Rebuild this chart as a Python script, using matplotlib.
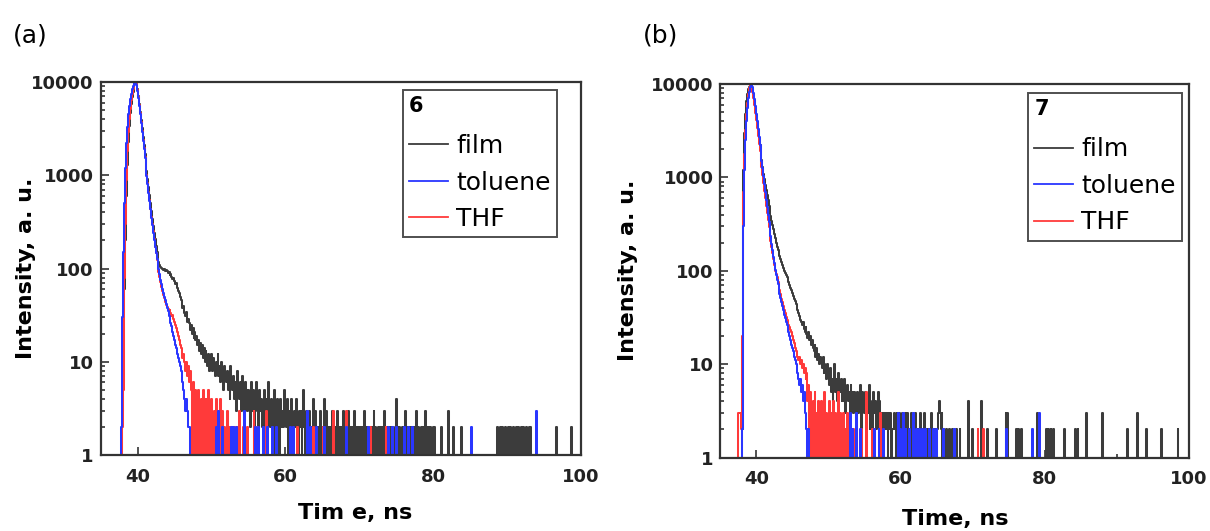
import numpy as np
import matplotlib
matplotlib.use('Agg')
import matplotlib.pyplot as plt

plt.rcParams['font.family'] = 'DejaVu Sans'

# TCSPC decay counts: dense part in 0.125 ns channels from 37 ns (one row = 1 ns),
# sparse single-channel counts later in the tail as (time ns, counts)
t_start = 37.0
bin_ns = 0.125
t_end = 101.0
series_names = ['film', 'toluene', 'THF']
series_colors = ['#3c3c3c', '#2a36ff', '#ff3a3a']

# ---- panel (a), compound 6 ----
film_6 = [
    0, 0, 0, 0, 0, 0, 0, 0,                                  # 37
    3, 6, 60, 200, 600, 1300, 2300, 3400,                    # 38
    4600, 5800, 6900, 7900, 8800, 9500, 10000, 9600,         # 39
    8400, 7000, 5800, 4800, 3900, 3200, 2600, 2100,          # 40
    1700, 1380, 1120, 910, 740, 610, 500, 410,               # 41
    340, 285, 240, 205, 175, 150, 130, 118,                  # 42
    110, 105, 102, 100, 97, 99, 95, 97,                      # 43
    93, 90, 92, 86, 88, 82, 78, 80,                          # 44
    74, 68, 70, 62, 58, 55, 50, 46,                          # 45
    44, 38, 40, 33, 31, 34, 27, 29,                          # 46
    26, 22, 25, 20, 23, 18, 21, 17,                          # 47
    19, 15, 17, 13, 16, 12, 15, 11,                          # 48
    14, 10, 13, 11, 9, 12, 8, 11,                            # 49
    12, 8, 11, 9, 7, 10, 8, 12,                              # 50
    7, 9, 6, 10, 8, 5, 9, 7,                                 # 51
    6, 8, 5, 7, 4, 9, 6, 5,                                  # 52
    7, 4, 6, 3, 8, 5, 4, 6,                                  # 53
    3, 5, 7, 4, 2, 6, 5, 3,                                  # 54
    5, 4, 2, 6, 3, 5, 4, 2,                                  # 55
    4, 6, 3, 2, 5, 3, 4, 2,                                  # 56
    3, 5, 2, 4, 3, 2, 6, 3,                                  # 57
    2, 4, 3, 1, 5, 2, 3, 4,                                  # 58
    2, 3, 1, 4, 2, 3, 2, 5,                                  # 59
    3, 2, 4, 1, 2, 3, 2, 4,                                  # 60
    2, 1, 3, 2, 4, 2, 1, 3,                                  # 61
    2, 3, 1, 2, 5, 2, 1, 3,                                  # 62
    2, 1, 3, 2, 1, 2, 4, 1,                                  # 63
    2, 3, 1, 2, 2, 1, 3, 2,                                  # 64
    1, 2, 4, 1, 2, 3, 1, 2,                                  # 65
    2, 1, 2, 3, 1, 2, 1, 2,                                  # 66
    3, 1, 2, 1, 2, 2, 1, 3,                                  # 67
    1, 2, 2, 1, 3, 1, 2, 1,                                  # 68
    2, 1, 2, 3, 1, 2, 1, 2,                                  # 69
    1, 2, 1, 2, 2, 1, 3, 1,                                  # 70
    2, 1, 2, 0, 2, 1, 2, 1,                                  # 71
    3, 1, 2, 1, 0, 2, 1, 2,                                  # 72
    1, 2, 0, 3, 1, 2, 1, 2,                                  # 73
    2, 1, 2, 1, 2, 0, 1, 2,                                  # 74
    4, 1, 2, 1, 2, 1, 0, 2,                                  # 75
    1, 2, 3, 1, 2, 0, 2, 1,                                  # 76
    2, 1, 2, 0, 2, 1, 3, 1,                                  # 77
    2, 0, 1, 2, 1, 2, 1, 2,                                  # 78
    3, 1, 2, 1, 2, 2, 0, 1,                                  # 79
    2, 1, 2, 0, 1, 0, 1, 0,                                  # 80
    0, 2, 0, 1, 0, 0, 0, 0,                                  # 81
]
film_6_spikes = [(82.1, 3), (82.8, 2), (83.9, 2), (88.8, 2), (89.1, 2), (89.4, 2), (89.8, 2),
                 (90.2, 2), (90.5, 2), (90.9, 2), (91.2, 2), (91.6, 2), (92.0, 2), (92.3, 2),
                 (92.6, 2), (93.0, 2), (93.3, 2), (96.7, 2), (98.8, 2)]
toluene_6 = [
    0, 0, 0, 0, 0, 0, 2, 2,                                  # 37
    30, 150, 500, 1200, 2200, 3300, 4500, 5600,              # 38
    6600, 7500, 8400, 9100, 9600, 9900, 9800, 9200,          # 39
    8000, 6700, 5500, 4500, 3600, 2900, 2350, 1900,          # 40
    1530, 1230, 990, 800, 650, 530, 430, 350,                # 41
    290, 240, 200, 170, 145, 125, 110, 100,                  # 42
    88, 75, 68, 60, 55, 50, 46, 42,                          # 43
    38, 35, 31, 28, 26, 24, 21, 19,                          # 44
    17, 15, 14, 12, 11, 10, 9, 8,                            # 45
    7, 6, 5, 4, 3, 4, 3, 2,                                  # 46
    2, 1, 0, 0, 0, 0, 0, 0,                                  # 47
]
toluene_6_spikes = [(50.6, 2), (51.0, 3), (51.5, 2), (52.7, 2), (53.0, 2), (53.4, 2), (54.5, 3),
                    (56.0, 2), (56.4, 2), (57.0, 2), (57.6, 2), (58.2, 2), (58.7, 2), (60.7, 2),
                    (61.1, 2), (63.0, 3), (63.4, 2), (64.2, 2), (65.3, 2), (68.3, 2), (71.3, 2),
                    (74.0, 2), (74.5, 2), (75.0, 2), (76.1, 2), (76.6, 2), (77.2, 2), (85.2, 2),
                    (94.0, 3)]
thf_6 = [
    0, 0, 0, 0, 0, 0, 0, 0,                                  # 37
    2, 5, 80, 300, 900, 1800, 2900, 4000,                    # 38
    5200, 6400, 7500, 8500, 9300, 9800, 10000, 9500,         # 39
    8300, 6900, 5700, 4600, 3700, 3000, 2400, 1950,          # 40
    1570, 1260, 1010, 820, 660, 540, 440, 360,               # 41
    300, 250, 205, 170, 145, 122, 105, 92,                   # 42
    82, 72, 64, 58, 52, 48, 44, 41,                          # 43
    39, 37, 35, 36, 33, 31, 32, 29,                          # 44
    27, 25, 23, 21, 19, 17, 15, 14,                          # 45
    13, 11, 12, 10, 8, 10, 7, 9,                             # 46
    6, 8, 5, 1, 6, 4, 1, 5,                                  # 47
    4, 1, 5, 3, 0, 4, 1, 5,                                  # 48
    3, 1, 4, 1, 0, 5, 3, 1,                                  # 49
    4, 1, 0, 3, 1, 4, 0, 3,                                  # 50
    1, 0, 4, 1, 3, 0, 2, 1,                                  # 51
    1, 3, 0, 2, 1, 0, 2, 1,                                  # 52
    0, 2, 0, 0, 2, 0, 3, 0,                                  # 53
]
thf_6_spikes = [(54.4, 2), (54.9, 2), (55.7, 3), (56.2, 2), (57.5, 3), (61.6, 2), (63.7, 2),
                (65.1, 2), (66.5, 3), (68.3, 3), (71.5, 2), (73.6, 2)]

# ---- panel (b), compound 7 ----
film_7 = [
    0, 0, 0, 0, 0, 0, 0, 0,                                  # 37
    2, 8, 1200, 3000, 4800, 6500, 7800, 8800,                # 38
    9400, 9800, 10000, 9900, 9000, 7800, 6600, 5500,         # 39
    4600, 3800, 3200, 2650, 2200, 1850, 1550, 1300,          # 40
    1100, 950, 830, 730, 650, 570, 500, 440,                 # 41
    390, 345, 310, 280, 250, 225, 200, 180,                  # 42
    165, 155, 145, 135, 125, 115, 108, 100,                  # 43
    95, 90, 85, 80, 75, 70, 66, 62,                          # 44
    58, 54, 50, 47, 44, 41, 38, 35,                          # 45
    33, 30, 28, 26, 28, 24, 22, 25,                          # 46
    21, 19, 22, 18, 20, 16, 18, 15,                          # 47
    14, 16, 12, 15, 11, 13, 10, 12,                          # 48
    11, 9, 12, 8, 10, 9, 7, 10,                              # 49
    8, 6, 9, 5, 7, 4, 6, 10,                                 # 50
    5, 7, 4, 8, 6, 5, 7, 4,                                  # 51
    6, 4, 7, 3, 5, 6, 4, 5,                                  # 52
    3, 6, 4, 5, 3, 5, 4, 2,                                  # 53
    5, 3, 4, 6, 3, 2, 5, 4,                                  # 54
    3, 5, 2, 4, 3, 6, 2, 4,                                  # 55
    3, 2, 5, 3, 4, 2, 3, 5,                                  # 56
    2, 4, 3, 2, 3, 1, 3, 2,                                  # 57
    3, 2, 1, 3, 2, 3, 1, 2,                                  # 58
    2, 3, 2, 1, 3, 2, 2, 3,                                  # 59
    1, 2, 3, 2, 1, 3, 2, 2,                                  # 60
    3, 1, 2, 2, 3, 1, 2, 1,                                  # 61
    2, 3, 1, 2, 2, 1, 3, 2,                                  # 62
    1, 2, 2, 3, 1, 2, 1, 2,                                  # 63
    2, 1, 3, 1, 2, 2, 1, 2,                                  # 64
    1, 2, 3, 4, 3, 2, 3, 1,                                  # 65
    2, 0, 1, 2, 0, 1, 2, 0,                                  # 66
]
film_7_spikes = [(67.3, 2), (67.8, 2), (68.3, 2), (69.4, 4), (70.0, 2), (71.2, 4), (72.0, 2),
                 (73.3, 2), (74.6, 3), (74.9, 3), (76.1, 2), (76.4, 2), (76.8, 2), (79.0, 3),
                 (80.2, 2), (80.5, 2), (80.9, 2), (81.2, 2), (82.8, 2), (84.2, 2), (84.6, 2),
                 (85.8, 3), (88.0, 3), (91.5, 2), (92.9, 3), (94.1, 2), (96.2, 2), (98.5, 2)]
toluene_7 = [
    0, 0, 0, 0, 0, 0, 0, 0,                                  # 37
    2, 4, 300, 1200, 2500, 4000, 5600, 7000,                 # 38
    8200, 9200, 9800, 10000, 9300, 8100, 6900, 5800,         # 39
    4800, 4000, 3300, 2700, 2250, 1850, 1500, 1250,          # 40
    1030, 850, 700, 580, 480, 400, 335, 280,                 # 41
    235, 195, 165, 140, 120, 103, 90, 80,                    # 42
    72, 64, 57, 51, 46, 42, 38, 34,                          # 43
    31, 28, 26, 24, 22, 20, 18, 16,                          # 44
    15, 14, 12, 11, 10, 9, 8, 7,                             # 45
    6, 7, 5, 6, 4, 5, 3, 3,                                  # 46
    2, 0, 2, 0, 1, 0, 0, 0,                                  # 47
]
toluene_7_spikes = [(53.0, 3), (53.4, 2), (53.9, 3), (54.4, 2), (56.4, 2), (57.0, 2), (57.6, 2),
                    (59.7, 3), (60.0, 2), (60.4, 3), (60.8, 2), (61.2, 2), (61.7, 3), (62.2, 2),
                    (62.6, 2), (63.0, 2), (63.5, 2), (64.0, 2), (64.6, 2), (65.0, 2), (66.0, 2),
                    (67.5, 2), (74.7, 2), (78.2, 2), (79.2, 3)]
thf_7 = [
    0, 0, 0, 0, 3, 3, 3, 2,                                  # 37
    20, 150, 700, 1800, 3200, 4800, 6300, 7800,              # 38
    9000, 9700, 10000, 9400, 8200, 7000, 5900, 4900,         # 39
    4100, 3400, 2800, 2300, 1900, 1550, 1280, 1050,          # 40
    870, 720, 600, 500, 420, 350, 295, 250,                  # 41
    210, 180, 155, 135, 115, 100, 92, 85,                    # 42
    76, 68, 62, 56, 50, 46, 42, 38,                          # 43
    35, 32, 30, 28, 26, 25, 23, 22,                          # 44
    20, 18, 17, 15, 14, 13, 12, 11,                          # 45
    12, 10, 11, 9, 10, 8, 9, 7,                              # 46
    8, 4, 6, 1, 5, 3, 1, 4,                                  # 47
    1, 5, 1, 3, 0, 4, 1, 1,                                  # 48
    4, 0, 3, 1, 5, 1, 3, 0,                                  # 49
    2, 4, 1, 3, 0, 2, 4, 1,                                  # 50
    3, 0, 2, 5, 1, 3, 0, 2,                                  # 51
    1, 3, 0, 2, 1, 3, 0, 2,                                  # 52
    0, 2, 0, 0, 2, 0, 0, 2,                                  # 53
]
thf_7_spikes = [(54.6, 2), (55.3, 5), (56.1, 2), (57.2, 3), (70.8, 2), (71.5, 2)]

panels = [
    ('(a)', '6', 'Tim e, ns', [(film_6, film_6_spikes), (toluene_6, toluene_6_spikes),
                               (thf_6, thf_6_spikes)]),
    ('(b)', '7', 'Time, ns', [(film_7, film_7_spikes), (toluene_7, toluene_7_spikes),
                              (thf_7, thf_7_spikes)]),
]
xticks = [40, 60, 80, 100]
yticks = [1, 10, 100, 1000, 10000]


def channel_counts(dense, spikes):
    n = int(round((t_end - t_start) / bin_ns))
    counts = np.zeros(n)
    counts[:len(dense)] = dense
    for tt, c in spikes:
        counts[int(round((tt - t_start) / bin_ns))] = c
    return t_start + bin_ns * np.arange(n), counts


fig = plt.figure(figsize=(12.1, 5.31), dpi=100)
rects = [[0.0833, 0.1431, 0.3967, 0.7024], [0.5954, 0.1382, 0.3871, 0.7036]]
legend_anchor = [(0.950, 0.979), (0.9855, 0.976)]
ylabel_pos = [(-0.156, 0.5), (-0.197, 0.5)]
xlabel_pos = [(0.529, -0.155), (0.502, -0.164)]
tag_x = [0.0107, 0.531]

for k, (tag, compound, xlab, data) in enumerate(panels):
    ax = fig.add_axes(rects[k])
    handles = {}
    # film first, then THF, toluene on top
    for j in [0, 2, 1]:
        t, y = channel_counts(*data[j])
        ln, = ax.plot(t, y, color=series_colors[j], lw=1.45, drawstyle='steps-mid',
                      label=series_names[j])
        handles[j] = ln
    ax.set_yscale('log', nonpositive='clip')
    ax.set_xlim(35, 100)
    ax.set_ylim(1, 10000)
    ax.set_xticks(xticks)
    ax.set_xticks([50, 70, 90], minor=True)
    ax.set_yticks(yticks)
    ax.set_yticklabels([str(v) for v in yticks])
    ax.tick_params(axis='both', which='both', direction='in', top=False, right=False,
                   labelsize=13, width=1.2, color='#333333')
    ax.tick_params(axis='both', which='major', length=6)
    ax.tick_params(axis='both', which='minor', length=3)
    ax.tick_params(axis='x', pad=9)
    ax.tick_params(axis='y', pad=5)
    for lab in ax.get_xticklabels() + ax.get_yticklabels():
        lab.set_fontweight('bold')
        lab.set_color('#222222')
    for s in ax.spines.values():
        s.set_linewidth(1.6)
        s.set_color('#333333')
    ax.set_xlabel(xlab, fontsize=16, fontweight='bold', va='center')
    ax.set_ylabel('Intensity, a. u.', fontsize=16, fontweight='bold', va='center')
    ax.xaxis.set_label_coords(*xlabel_pos[k])
    ax.yaxis.set_label_coords(*ylabel_pos[k])

    leg = ax.legend([handles[0], handles[1], handles[2]], series_names,
                    title=compound, title_fontproperties={'weight': 'bold', 'size': 15},
                    alignment='left', loc='upper right', bbox_to_anchor=legend_anchor[k],
                    borderaxespad=0, fontsize=18, frameon=True, fancybox=False,
                    handlelength=1.55, handletextpad=0.33, labelspacing=0.5,
                    borderpad=0.25)
    leg._legend_box.sep = 13
    leg.get_frame().set_edgecolor('#222222')
    leg.get_frame().set_linewidth(1.4)
    for h in leg.legend_handles:
        h.set_linewidth(1.3)

    fig.text(tag_x[k], 0.934, tag, fontsize=18, va='center')

fig.savefig('out.png', dpi=100)
